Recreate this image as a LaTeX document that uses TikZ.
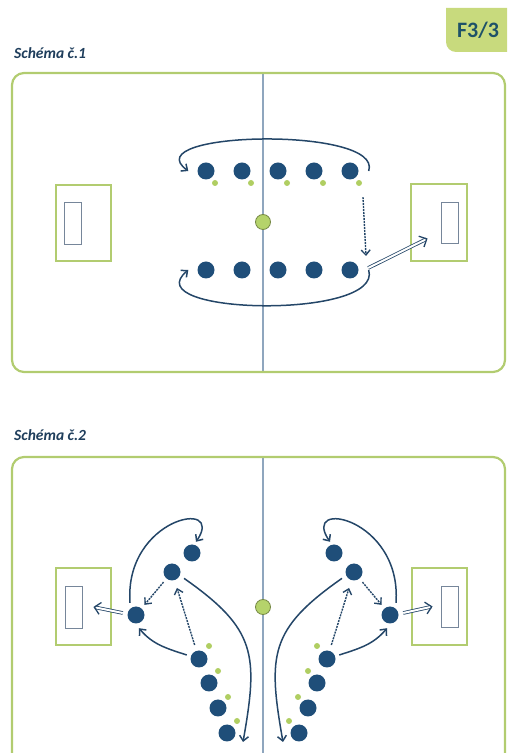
\documentclass[tikz,border=0pt]{standalone}
\usepackage{fontspec}
\setmainfont{Carlito}
\usetikzlibrary{arrows.meta, positioning}
\definecolor{pitchgreen}{RGB}{178, 204, 112}
\definecolor{conegreen}{RGB}{176, 206, 98}
\definecolor{spotgreen}{RGB}{181, 211, 107}
\definecolor{playerblue}{RGB}{31, 78, 121}
\definecolor{runblue}{RGB}{36, 70, 104}
\definecolor{midgray}{RGB}{143, 166, 190}
\definecolor{netgray}{RGB}{118, 134, 154}
\definecolor{titleblue}{RGB}{31, 62, 92}
\definecolor{badgegreen}{RGB}{200, 218, 125}
\definecolor{badgetext}{RGB}{30, 82, 104}

\begin{document}
\begin{tikzpicture}[x=1pt, y=1pt,
  player/.style={circle, fill=playerblue, inner sep=0pt, minimum size=17pt},
  cone/.style={circle, fill=conegreen, inner sep=0pt, minimum size=6pt},
  spot/.style={circle, draw=spotgreen!65!black, fill=spotgreen, line width=0.8pt, inner sep=0pt, minimum size=15pt},
  goalbox/.style={draw=pitchgreen, line width=2.4pt, inner sep=0pt},
  netbox/.style={draw=netgray, line width=0.9pt, fill=white, inner sep=0pt, minimum width=17pt},
  run/.style={runblue, line width=1.5pt, -{Straight Barb[length=5pt, width=9pt]}},
  pass/.style={runblue, line width=1.4pt, dash pattern=on 2pt off 1pt, -{Straight Barb[length=5pt, width=9pt]}},
  shot/.style={runblue, double, double distance=2pt, line width=0.8pt, -{Straight Barb[length=6pt, width=12pt, line width=1.3pt]}},
  title/.style={font=\fontsize{15.5}{18}\selectfont\bfseries\itshape, text=titleblue, anchor=west, inner sep=0pt}]
  \useasboundingbox (0,0) rectangle (507,753);
  \clip (0,0) rectangle (507,753);

  % Header
  \fill[badgegreen] (446,745) -- (512,745) -- (512,701) -- (456,701) arc[start angle=270, end angle=180, radius=10pt] -- cycle;
  \node[font=\fontsize{22}{24}\selectfont\bfseries, text=badgetext] (tag) at (478,723) {F3/3};
  \node[title] (title1) at (14,700) {Schéma č.1};
  \node[title] (title2) at (14,318) {Schéma č.2};

  % Pitch 1
  \draw[midgray, line width=1.2pt] (263,680) -- (263,381);
  \draw[pitchgreen, line width=2.2pt, rounded corners=12pt] (12,381) rectangle (505,680);
  \node[goalbox, minimum width=55pt, minimum height=76pt] (goalA) at (83.5,530) {};
  \node[netbox, minimum height=42pt] (netA) at (72.5,530) {};
  \node[goalbox, minimum width=56pt, minimum height=77pt] (goalB) at (439,530.5) {};
  \node[netbox, minimum height=41pt] (netB) at (449.5,530.5) {};
  \node[spot] (mid1) at (263,531) {};

  \node[player] (a1) at (206,582) {};
  \node[player] (a2) at (242,582) {};
  \node[player] (a3) at (278,582) {};
  \node[player] (a4) at (314,582) {};
  \node[player] (a5) at (350,582) {};
  \node[cone] (d1) at (215,570) {};
  \node[cone] (d2) at (251,570) {};
  \node[cone] (d3) at (287,570) {};
  \node[cone] (d4) at (323,570) {};
  \node[cone] (d5) at (359,570) {};
  \node[player] (b1) at (206,483) {};
  \node[player] (b2) at (242,483) {};
  \node[player] (b3) at (278,483) {};
  \node[player] (b4) at (314,483) {};
  \node[player] (b5) at (350,483) {};

  \draw[run] ([xshift=10]a5.east) .. controls +(15,45) and +(-55,40) .. ([xshift=-9]a1.west);
  \draw[run] ([xshift=10]b5.east) .. controls +(15,-50) and +(-55,-45) .. ([xshift=-9]b1.west);
  \draw[pass] ([shift={(4,-11)}]d5.south) -- ([shift={(16,14)}]b5.center);
  \draw[shot] ([shift={(9.5,2)}]b5.east) -- ([shift={(-13,-16)}]netB.west);

  % Pitch 2
  \draw[midgray, line width=1.2pt] (263,296) -- (263,-20);
  \draw[pitchgreen, line width=2.2pt, rounded corners=12pt] (12,-20) rectangle (505,296);
  \node[goalbox, minimum width=55pt, minimum height=77pt] (goalC) at (83.5,146.5) {};
  \node[netbox, minimum height=42pt] (netC) at (73.5,146) {};
  \node[goalbox, minimum width=55pt, minimum height=77pt] (goalD) at (439.5,146.5) {};
  \node[netbox, minimum height=41pt] (netD) at (449.5,146.5) {};
  \node[spot] (mid2) at (263,146) {};

  % left group
  \node[player] (l1) at (192,200) {};
  \node[player] (l2) at (172,181) {};
  \node[player] (l3) at (136,138) {};
  \node[player] (p1) at (199,94) {};
  \node[player] (p2) at (209,70) {};
  \node[player] (p3) at (218,45) {};
  \node[player] (p4) at (227,20) {};
  \node[cone] (c1) at (209,107) {};
  \node[cone] (c2) at (218,82) {};
  \node[cone] (c3) at (228,56) {};
  \node[cone] (c4) at (237,32) {};

  \draw[run] ([shift={(-6,3.5)}]l3.north) .. controls +(-6,85) and +(30,44) .. ([shift={(4,2.5)}]l1.north);
  \draw[pass, shorten <=4.5pt, shorten >=4.5pt] (l2) -- (l3);
  \draw[pass, shorten <=6pt, shorten >=8pt] (p1) -- (l2);
  \draw[run] ([shift={(-3.5,4)}]p1.west) to[out=162, in=-50] ([shift={(3,-4.5)}]l3.south);
  \draw[run] ([shift={(4.5,-2)}]l2.-30) to[out=-35, in=80, looseness=1.3] ([shift={(16,-9)}]p4.center);
  \draw[shot] ([shift={(-4.5,2)}]l3.west) -- ([xshift=11]netC.east);

  % right group
  \node[player] (r1) at (334,200) {};
  \node[player] (r2) at (354,181) {};
  \node[player] (r3) at (390,138) {};
  \node[player] (q1) at (327,94) {};
  \node[player] (q2) at (317,70) {};
  \node[player] (q3) at (308,45) {};
  \node[player] (q4) at (299,20) {};
  \node[cone] (e1) at (317,107) {};
  \node[cone] (e2) at (308,82) {};
  \node[cone] (e3) at (298,56) {};
  \node[cone] (e4) at (289,32) {};

  \draw[run] ([shift={(6,3.5)}]r3.north) .. controls +(6,85) and +(-30,44) .. ([shift={(-4,2.5)}]r1.north);
  \draw[pass, shorten <=4.5pt, shorten >=4.5pt] (r2) -- (r3);
  \draw[pass, shorten <=6pt, shorten >=8pt] (q1) -- (r2);
  \draw[run] ([shift={(3.5,4)}]q1.east) to[out=18, in=230] ([shift={(-3,-4.5)}]r3.south);
  \draw[run] ([shift={(-4.5,-2)}]r2.210) to[out=215, in=100, looseness=1.3] ([shift={(-16,-9)}]q4.center);
  \draw[shot] ([shift={(4.5,2)}]r3.east) -- ([xshift=-8]netD.west);
\end{tikzpicture}
\end{document}
